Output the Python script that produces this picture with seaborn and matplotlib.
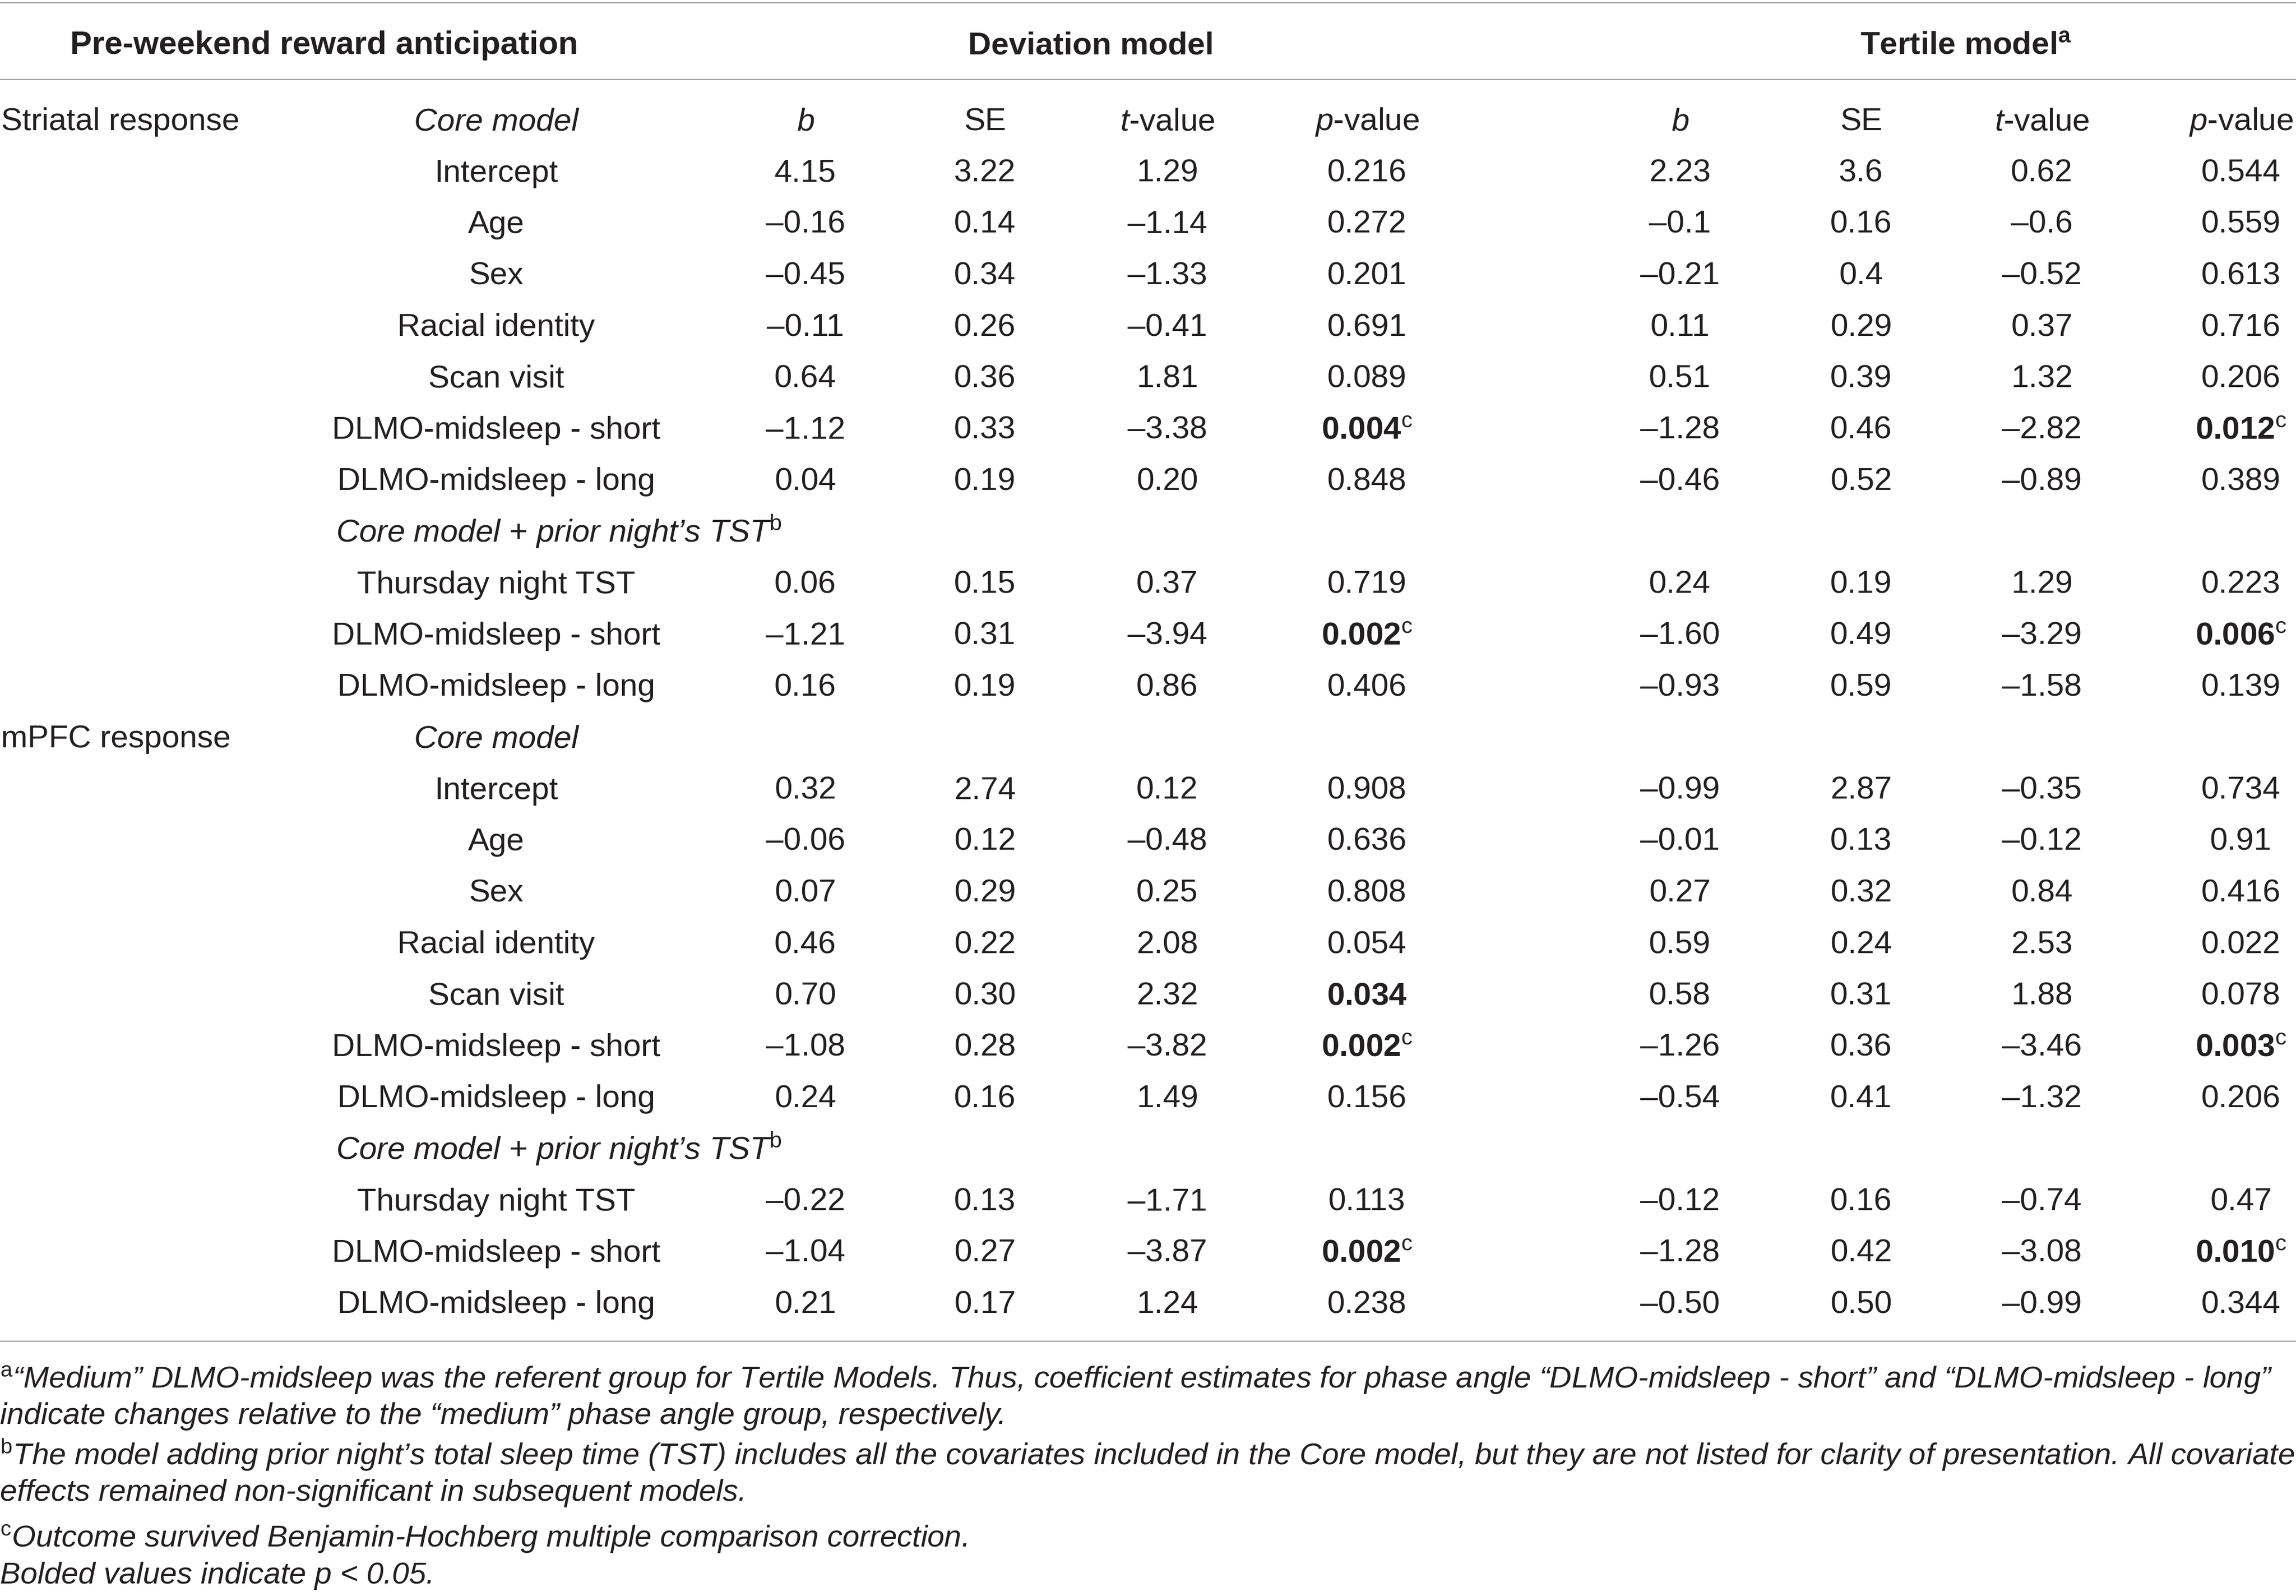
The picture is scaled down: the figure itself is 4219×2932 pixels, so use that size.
import numpy as np
import pandas as pd
import matplotlib.pyplot as plt
import seaborn as sns

sns.set_theme(style="white")
plt.rcParams['font.family'] = ['Liberation Sans', 'DejaVu Sans']
plt.rcParams['mathtext.fontset'] = 'custom'
plt.rcParams['mathtext.rm'] = 'Liberation Sans'
plt.rcParams['mathtext.it'] = 'Liberation Sans:italic'
plt.rcParams['mathtext.bf'] = 'Liberation Sans:bold'

# ---- table content ----
outcomes = ["Striatal response", "mPFC response"]
core_terms = ["Intercept", "Age", "Sex", "Racial identity", "Scan visit",
              "DLMO-midsleep - short", "DLMO-midsleep - long"]
tst_terms = ["Thursday night TST", "DLMO-midsleep - short", "DLMO-midsleep - long"]

# 10 rows per outcome: 7 core model terms + 3 prior-night TST terms
dev_b = ["4.15", "–0.16", "–0.45", "–0.11", "0.64", "–1.12", "0.04", "0.06", "–1.21", "0.16",
         "0.32", "–0.06", "0.07", "0.46", "0.70", "–1.08", "0.24", "–0.22", "–1.04", "0.21"]
dev_se = ["3.22", "0.14", "0.34", "0.26", "0.36", "0.33", "0.19", "0.15", "0.31", "0.19",
          "2.74", "0.12", "0.29", "0.22", "0.30", "0.28", "0.16", "0.13", "0.27", "0.17"]
dev_t = ["1.29", "–1.14", "–1.33", "–0.41", "1.81", "–3.38", "0.20", "0.37", "–3.94", "0.86",
         "0.12", "–0.48", "0.25", "2.08", "2.32", "–3.82", "1.49", "–1.71", "–3.87", "1.24"]
dev_p = ["0.216", "0.272", "0.201", "0.691", "0.089", "0.004", "0.848", "0.719", "0.002", "0.406",
         "0.908", "0.636", "0.808", "0.054", "0.034", "0.002", "0.156", "0.113", "0.002", "0.238"]
dev_bold = [0, 0, 0, 0, 0, 1, 0, 0, 1, 0,
            0, 0, 0, 0, 1, 1, 0, 0, 1, 0]
dev_bh = [0, 0, 0, 0, 0, 1, 0, 0, 1, 0,
          0, 0, 0, 0, 0, 1, 0, 0, 1, 0]

tert_b = ["2.23", "–0.1", "–0.21", "0.11", "0.51", "–1.28", "–0.46", "0.24", "–1.60", "–0.93",
          "–0.99", "–0.01", "0.27", "0.59", "0.58", "–1.26", "–0.54", "–0.12", "–1.28", "–0.50"]
tert_se = ["3.6", "0.16", "0.4", "0.29", "0.39", "0.46", "0.52", "0.19", "0.49", "0.59",
           "2.87", "0.13", "0.32", "0.24", "0.31", "0.36", "0.41", "0.16", "0.42", "0.50"]
tert_t = ["0.62", "–0.6", "–0.52", "0.37", "1.32", "–2.82", "–0.89", "1.29", "–3.29", "–1.58",
          "–0.35", "–0.12", "0.84", "2.53", "1.88", "–3.46", "–1.32", "–0.74", "–3.08", "–0.99"]
tert_p = ["0.544", "0.559", "0.613", "0.716", "0.206", "0.012", "0.389", "0.223", "0.006", "0.139",
          "0.734", "0.91", "0.416", "0.022", "0.078", "0.003", "0.206", "0.47", "0.010", "0.344"]
tert_bold = [0, 0, 0, 0, 0, 1, 0, 0, 1, 0,
             0, 0, 0, 0, 0, 1, 0, 0, 1, 0]

col_heads = ["$\\it{b}$", "SE", "$\\it{t}$-value", "$\\it{p}$-value"]

footnotes = [
    "$^{\\mathrm{a}}$“Medium” DLMO-midsleep was the referent group for Tertile Models. Thus, coefficient estimates for phase angle “DLMO-midsleep - short” and “DLMO-midsleep - long”",
    "indicate changes relative to the “medium” phase angle group, respectively.",
    "$^{\\mathrm{b}}$The model adding prior night’s total sleep time (TST) includes all the covariates included in the Core model, but they are not listed for clarity of presentation. All covariate",
    "effects remained non-significant in subsequent models.",
    "$^{\\mathrm{c}}$Outcome survived Benjamin-Hochberg multiple comparison correction.",
    "Bolded values indicate p < 0.05.",
]

# ---- layout ----
W, H = 4219, 2932
FS = 42
ink = "#231f20"
rule = "#a3a3a3"
x_out = 2
x_lab = 912
x_sub = 617
xs_dev = [1480, 1810, 2145, 2512]
xs_ter = [3087, 3420, 3752, 4118]
y0, dy = 218, 94.5
cap = 21  # half cap height, to turn row centres into baselines
foot_y = [2530, 2596, 2671, 2737, 2822, 2889]


def row_y(i):
    return y0 + i * dy + cap


fig = plt.figure(figsize=(W / 100, H / 100), dpi=100)
ax = fig.add_axes([0, 0, 1, 1])
ax.set_xlim(0, W)
ax.set_ylim(H, 0)
ax.axis("off")

# rules
for yy in [5, 146, 2464]:
    ax.axhline(yy, color=rule, lw=1.6)

# header
ax.text(596, 78 + cap, "Pre-weekend reward anticipation", fontsize=FS + 1, fontweight="bold",
        color=ink, ha="center", va="baseline")
ax.text(2005, 78 + cap, "Deviation model", fontsize=FS, fontweight="bold",
        color=ink, ha="center", va="baseline")
ax.text(3612, 78 + cap, "Tertile model$^{\\mathbf{a}}$", fontsize=FS, fontweight="bold",
        color=ink, ha="center", va="baseline")

rows = pd.DataFrame({"dev_b": dev_b, "dev_se": dev_se, "dev_t": dev_t, "dev_p": dev_p,
                     "dev_bold": dev_bold, "dev_bh": dev_bh,
                     "tert_b": tert_b, "tert_se": tert_se, "tert_t": tert_t, "tert_p": tert_p,
                     "tert_bold": tert_bold})
rows["term"] = (core_terms + tst_terms) * 2


def p_label(p, bold, bh):
    if not bold:
        return p
    s = "$\\mathbf{" + p + "}$"
    if bh:
        s = "$\\mathbf{" + p + "}^{\\mathrm{c}}$"
    return s


for k, outcome in enumerate(outcomes):
    base = 12 * k
    ax.text(x_out, row_y(base), outcome, fontsize=FS, color=ink, ha="left", va="baseline")
    ax.text(x_lab, row_y(base), "Core model", fontsize=FS, color=ink, style="italic",
            ha="center", va="baseline")
    if k == 0:
        for xx, h in zip(xs_dev + xs_ter, col_heads * 2):
            ax.text(xx, row_y(base), h, fontsize=FS, color=ink, ha="center", va="baseline")
    ax.text(x_sub, row_y(base + 8), "Core model + prior night’s TST$^{\\mathrm{b}}$",
            fontsize=FS, color=ink, style="italic", ha="left", va="baseline")

    for j in range(10):
        r = rows.iloc[10 * k + j]
        i = base + 1 + j if j < 7 else base + 2 + j
        y = row_y(i)
        ax.text(x_lab, y, r["term"], fontsize=FS, color=ink, ha="center", va="baseline")
        vals_dev = [r["dev_b"], r["dev_se"], r["dev_t"],
                    p_label(r["dev_p"], r["dev_bold"], r["dev_bh"])]
        vals_ter = [r["tert_b"], r["tert_se"], r["tert_t"],
                    p_label(r["tert_p"], r["tert_bold"], r["tert_bold"])]
        for xx, v in zip(xs_dev + xs_ter, vals_dev + vals_ter):
            ax.text(xx, y, v, fontsize=FS, color=ink, ha="center", va="baseline")

# footnotes
for yy, t in zip(foot_y, footnotes):
    ax.text(0, yy + 20, t, fontsize=40.5, color=ink, style="italic",
            ha="left", va="baseline")

fig.savefig("out.png", dpi=100, facecolor="white")
